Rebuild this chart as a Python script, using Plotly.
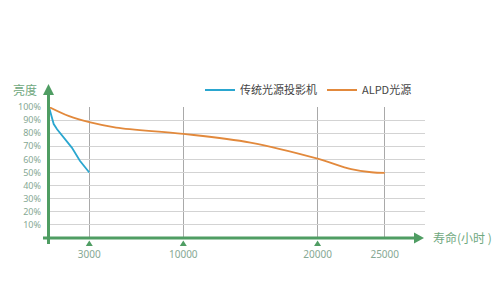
import plotly.graph_objects as go

# ---- data ----
trad_hours = [0, 200, 350, 600, 1000, 1300, 1700, 2300, 3000]
trad_bright = [100, 92, 87, 83, 78, 74, 69, 59, 50]

alpd_hours = [0, 1500, 3000, 5000, 10000, 15000, 20000, 22500, 24000, 25000]
alpd_bright = [100, 93, 88.4, 84.3, 79.5, 72.8, 60.5, 52.6, 50.2, 49.7]

x_ticks = [3000, 10000, 20000, 25000]
x_tick_labels = ["3000", "10000", "20000", "25000"]
y_ticks = [10, 20, 30, 40, 50, 60, 70, 80, 90, 100]
y_tick_labels = [f"{v}%" for v in y_ticks]
marked_ticks = [3000, 10000, 20000]

names = ["传统光源投影机", "ALPD光源"]

GREEN = "#4f9d63"
LABEL = "#86a894"
FONT = "Noto Sans CJK SC"
NUMFONT = "Noto Sans"

# plot area geometry (pixels)
L, R, T, B = 49, 425, 107, 238
W, H = 500, 299
XMAX = 28000

def xp(px):
    return (px - L) / (R - L)

def yp(py):
    return (B - py) / (B - T)

fig = go.Figure()
fig.add_trace(go.Scatter(x=trad_hours, y=trad_bright, mode="lines", name=names[0],
                         line=dict(color="#2aa6cf", width=1.8)))
fig.add_trace(go.Scatter(x=alpd_hours, y=alpd_bright, mode="lines", name=names[1],
                         line=dict(color="#e2893c", width=1.8, shape="spline", smoothing=1.0)))

shapes = [
    # y axis
    dict(type="line", xref="paper", yref="paper", x0=xp(48.5), x1=xp(48.5),
         y0=yp(244), y1=yp(92), line=dict(color=GREEN, width=3)),
    # x axis
    dict(type="line", xref="paper", yref="paper", x0=xp(43), x1=xp(417),
         y0=yp(238), y1=yp(238), line=dict(color=GREEN, width=3)),
    # y arrow head
    dict(type="path", xref="paper", yref="paper",
         path=f"M {xp(43)},{yp(95)} L {xp(54)},{yp(95)} L {xp(48.5)},{yp(84)} Z",
         fillcolor=GREEN, line=dict(width=0)),
    # x arrow head
    dict(type="path", xref="paper", yref="paper",
         path=f"M {xp(414)},{yp(232.5)} L {xp(414)},{yp(243.5)} L {xp(424)},{yp(238)} Z",
         fillcolor=GREEN, line=dict(width=0)),
]

# small triangles under marked ticks (half-width ~3.5px in data units)
hw = 3.5 / (R - L) * XMAX
for t in marked_ticks:
    shapes.append(dict(type="path", xref="x", yref="paper",
                       path=f"M {t - hw},{yp(246)} L {t + hw},{yp(246)} L {t},{yp(240.5)} Z",
                       fillcolor=GREEN, line=dict(width=0)))

annotations = [
    dict(text="亮度", xref="paper", yref="paper", x=xp(25), y=yp(89), showarrow=False,
         font=dict(family=FONT, size=12, color="#6fa880"), xanchor="center", yanchor="middle"),
    dict(text="寿命(小时 )", xref="paper", yref="paper", x=xp(431), y=yp(237), showarrow=False,
         font=dict(family=FONT, size=12, color="#6fa880"), xanchor="left", yanchor="middle"),
]

fig.update_layout(
    width=W, height=H,
    margin=dict(l=L, r=W - R, t=T, b=H - B),
    paper_bgcolor="white", plot_bgcolor="white",
    font=dict(family=FONT),
    showlegend=True,
    legend=dict(orientation="h", x=xp(200), y=yp(90), xanchor="left", yanchor="middle",
                font=dict(family=FONT, size=11, color="#444444"), itemwidth=30,
                bgcolor="rgba(0,0,0,0)"),
    shapes=shapes,
    annotations=annotations,
    xaxis=dict(range=[0, XMAX], tickvals=x_ticks, ticktext=x_tick_labels,
               showgrid=True, gridcolor="#a9a9a9", gridwidth=1, zeroline=False,
               showline=False, ticks="", ticklabelstandoff=9,
               tickfont=dict(family=NUMFONT, size=10, color=LABEL), fixedrange=True),
    yaxis=dict(range=[0, 100], tickvals=y_ticks, ticktext=y_tick_labels,
               showgrid=True, gridcolor="#d3d3d3", gridwidth=1, zeroline=False,
               showline=False, ticks="", ticklabelstandoff=7,
               tickfont=dict(family=NUMFONT, size=9, color=LABEL), fixedrange=True),
)

fig.write_html("out.html")
